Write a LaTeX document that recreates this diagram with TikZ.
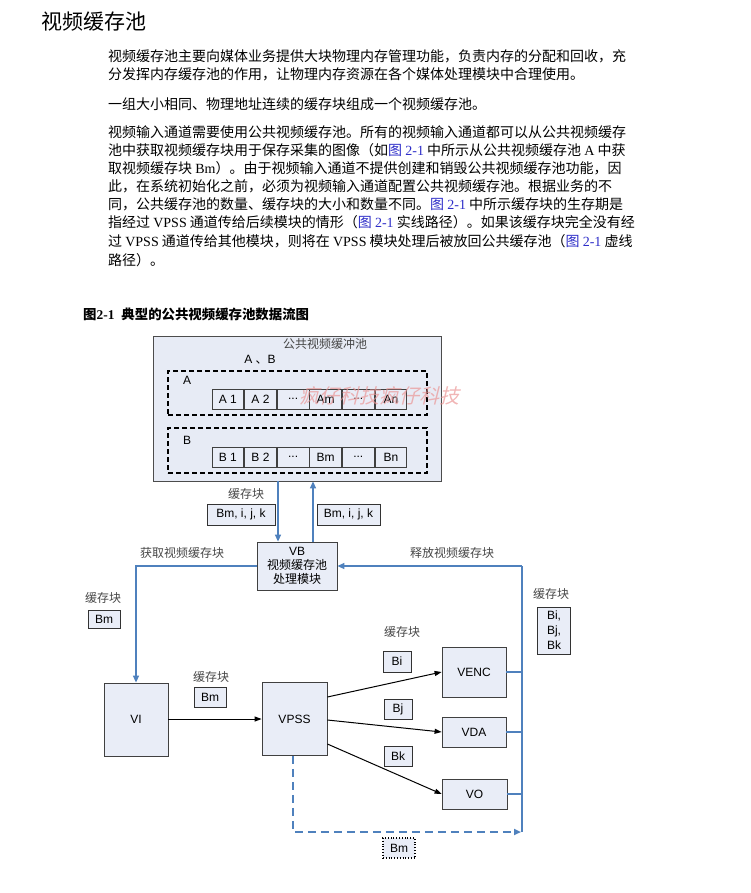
\documentclass[tikz,border=0pt]{standalone}
\usepackage{fontspec}
\setmainfont{Liberation Sans}
\newfontfamily\cjk{Noto Sans CJK SC}
\newfontfamily\tnr{Liberation Serif}
\usetikzlibrary{arrows.meta,positioning}
\definecolor{boxfill}{RGB}{233,237,247}
\definecolor{poolfill}{RGB}{231,235,245}
\definecolor{lineblue}{RGB}{79,129,189}
\definecolor{linkblue}{RGB}{45,45,200}
\definecolor{cngray}{RGB}{70,70,70}
\definecolor{wmred}{RGB}{235,150,150}
\newcommand\lat[1]{{\tnr #1}}
\newcommand\figref{\textcolor{linkblue}{图 \lat{2-1}}}
\begin{document}
\begin{tikzpicture}[x=1pt,y=-1pt,
  para/.style={anchor=base west, inner sep=0pt, font=\cjk\fontsize{14}{17}\selectfont},
  modbox/.style={draw=black!75, fill=boxfill, line width=0.8pt, inner sep=0pt, font=\fontsize{12}{14}\selectfont},
  lblbox/.style={draw=black!80, fill=boxfill, line width=0.8pt, inner sep=0pt, font=\fontsize{12}{14}\selectfont},
  cell/.style={draw=black!75, fill=boxfill, line width=0.8pt, inner sep=0pt, minimum width=31.8pt, minimum height=20pt, font=\fontsize{12}{14}\selectfont},
  cn/.style={inner sep=0pt, text=cngray, font=\cjk\fontsize{12}{14}\selectfont},
  grp/.style={draw=black, line width=1.8pt, dash pattern=on 5pt off 3pt, inner sep=0pt},
  bline/.style={draw=lineblue, line width=1.3pt},
  barrow/.style={draw=lineblue, line width=1.3pt, -{Triangle[length=7pt,width=6pt]}},
  karrow/.style={draw=black, line width=1pt, -{Triangle[length=7pt,width=5pt]}}
]
\useasboundingbox (0,0) rectangle (750,893);

% title and text
\node[anchor=base west, inner sep=0pt, font=\cjk\fontsize{21}{24}\selectfont] (title) at (41,30) {视频缓存池};
\node[para] (p1a) at (108,62) {视频缓存池主要向媒体业务提供大块物理内存管理功能，负责内存的分配和回收，充};
\node[para] (p1b) at (108,80) {分发挥内存缓存池的作用，让物理内存资源在各个媒体处理模块中合理使用。};
\node[para] (p2) at (108,110) {一组大小相同、物理地址连续的缓存块组成一个视频缓存池。};
\node[para] (p3a) at (108,138) {视频输入通道需要使用公共视频缓存池。所有的视频输入通道都可以从公共视频缓存};
\node[para] (p3b) at (108,156) {池中获取视频缓存块用于保存采集的图像（如\figref\ 中所示从公共视频缓存池 \lat{A} 中获};
\node[para] (p3c) at (108,174) {取视频缓存块 \lat{Bm}）。由于视频输入通道不提供创建和销毁公共视频缓存池功能，因};
\node[para] (p3d) at (108,192) {此，在系统初始化之前，必须为视频输入通道配置公共视频缓存池。根据业务的不};
\node[para] (p3e) at (108,210) {同，公共缓存池的数量、缓存块的大小和数量不同。\figref\ 中所示缓存块的生存期是};
\node[para] (p3f) at (108,228) {指经过 \lat{VPSS} 通道传给后续模块的情形（\figref\ 实线路径）。如果该缓存块完全没有经};
\node[para] (p3g) at (108,247) {过 \lat{VPSS} 通道传给其他模块，则将在 \lat{VPSS} 模块处理后被放回公共缓存池（\figref\ 虚线};
\node[para] (p3h) at (108,265) {路径）。};

\node[anchor=base west, inner sep=0pt, font=\cjk\bfseries\fontsize{13.4}{15}\selectfont] (cap) at (83,319) {图\lat{\bfseries 2-1}\hspace{7pt}典型的公共视频缓存池数据流图};

% pool
\node[draw=black!70, fill=poolfill, line width=0.8pt, minimum width=288pt, minimum height=145pt, inner sep=0pt] (pool) at (297,408.5) {};
\node[cn] (poolt) at (325,344) {公共视频缓冲池};
\node[inner sep=0pt, font=\fontsize{12}{14}\selectfont] (ab) at (260,360) {A \cjk 、\rmfamily B};
\node[grp, minimum width=259pt, minimum height=44pt] (ga) at (297.5,393) {};
\node[grp, minimum width=259pt, minimum height=45pt] (gb) at (297.5,450.5) {};
\node[inner sep=0pt, font=\fontsize{12}{14}\selectfont] (la) at (187,380) {A};
\node[inner sep=0pt, font=\fontsize{12}{14}\selectfont] (lb) at (187,440) {B};

\node[cell] (a1) at (227.9,399) {A 1};
\node[cell, right=0pt of a1] (a2) {A 2};
\node[cell, right=0pt of a2] (a3) {...};
\node[cell, right=0pt of a3] (a4) {Am};
\node[cell, right=0pt of a4] (a5) {...};
\node[cell, right=0pt of a5] (a6) {An};
\node[cell] (b1) at (227.9,457) {B 1};
\node[cell, right=0pt of b1] (b2) {B 2};
\node[cell, right=0pt of b2] (b3) {...};
\node[cell, right=0pt of b3] (b4) {Bm};
\node[cell, right=0pt of b4] (b5) {...};
\node[cell, right=0pt of b5] (b6) {Bn};

% watermark
\node[inner sep=0pt, text=wmred, opacity=0.7, xslant=0.25, font=\cjk\fontsize{20}{22}\selectfont] (wm) at (381,396) {疯仔科技疯仔科技};

% VB
\node[cn] (c1) at (246,494) {缓存块};
\node[lblbox, minimum width=68pt, minimum height=21pt] (l1) at (241,514.5) {Bm, i, j, k};
\node[lblbox, minimum width=63pt, minimum height=21pt] (l2) at (348.5,514.5) {Bm, i, j, k};
\node[modbox, minimum width=80pt, minimum height=48pt, align=center] (vb) at (297,566) {VB\\{\cjk 视频缓存池}\\{\cjk 处理模块}};
\coordinate (xa) at (278,0);
\coordinate (xb) at (313,0);
\draw[barrow] (pool.south -| xa) -- (vb.north -| xa);
\draw[barrow] (vb.north -| xb) -- (pool.south -| xb);
\node[cn] (c2) at (182,553) {获取视频缓存块};
\node[cn] (c3) at (452,553) {释放视频缓存块};

% modules
\node[modbox, minimum width=64pt, minimum height=73pt] (vi) at (136,719.5) {VI};
\node[modbox, minimum width=65pt, minimum height=73pt] (vpss) at (294.5,719) {VPSS};
\node[modbox, minimum width=64pt, minimum height=50pt] (venc) at (474,672) {VENC};
\node[modbox, minimum width=64pt, minimum height=30pt] (vda) at (474,732) {VDA};
\node[modbox, minimum width=65pt, minimum height=30pt] (vo) at (474.5,794) {VO};

\coordinate (bt) at (522,566);
\coordinate (bb) at (522,832);
\draw[barrow] (vb.west) -| (vi.north);
\draw[bline] (bb) -- (bt);
\draw[barrow] (bt) -- (vb.east);
\draw[bline] (venc.east) -- (venc.east -| bt);
\draw[bline] (vda.east) -- (vda.east -| bt);
\draw[bline] (vo.east) -- (vo.east -| bt);
\draw[draw=lineblue, line width=2.2pt, dash pattern=on 8pt off 5pt, -{Triangle[length=7pt,width=6pt]}] ([xshift=-1.5pt]vpss.south) |- ([xshift=-1pt]bb);

\draw[karrow] (vi.east |- vpss.east) -- (vpss.west);
\draw[karrow] ([yshift=22pt]vpss.east) -- (venc.west);
\draw[karrow] ([yshift=-1pt]vpss.east) -- (vda.west);
\draw[karrow] ([yshift=-25pt]vpss.east) -- (vo.west);

% labels
\node[cn] (c4) at (103,598) {缓存块};
\node[lblbox, minimum width=32pt, minimum height=18pt] (l3) at (104,619) {Bm};
\node[cn] (c5) at (211,677) {缓存块};
\node[lblbox, minimum width=32pt, minimum height=20pt] (l4) at (210,697) {Bm};
\node[cn] (c6) at (402,632) {缓存块};
\node[lblbox, minimum width=28pt, minimum height=21pt] (l5) at (397,661.5) {Bi};
\node[lblbox, minimum width=28pt, minimum height=20pt] (l6) at (398,709) {Bj};
\node[lblbox, minimum width=28pt, minimum height=20pt] (l7) at (398,756) {Bk};
\node[cn] (c7) at (551,594) {缓存块};
\node[lblbox, minimum width=33pt, minimum height=47pt, align=center, font=\fontsize{12}{15}\selectfont] (l8) at (554,630.5) {Bi,\\Bj,\\Bk};
\node[lblbox, draw=black, dotted, line width=1.2pt, minimum width=32pt, minimum height=20pt] (l9) at (399,848) {Bm};
\end{tikzpicture}
\end{document}
